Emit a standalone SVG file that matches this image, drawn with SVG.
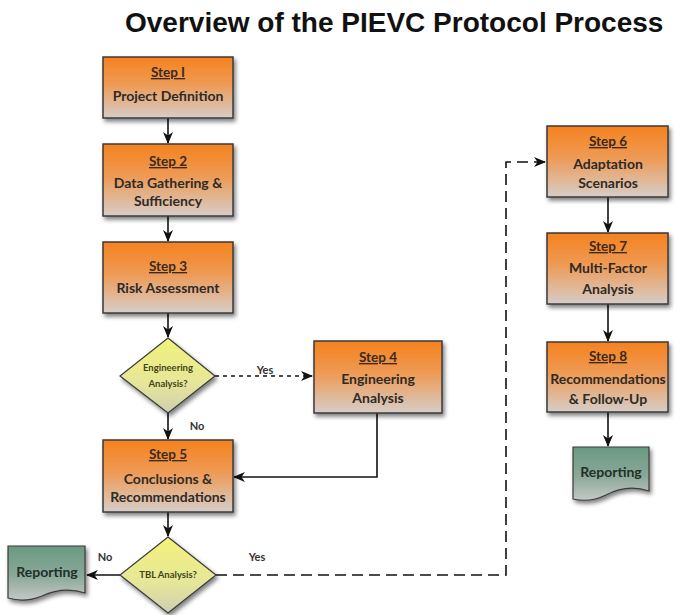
<svg xmlns="http://www.w3.org/2000/svg" width="675" height="615" viewBox="0 0 675 615">
<defs>
<linearGradient id="gOrange" x1="0" y1="0" x2="0" y2="1">
<stop offset="0" stop-color="#f5821e"/>
<stop offset="0.45" stop-color="#ee9a55"/>
<stop offset="1" stop-color="#d6cdc8"/>
</linearGradient>
<linearGradient id="gYellow" x1="0" y1="0" x2="0" y2="1">
<stop offset="0" stop-color="#f2f27a"/>
<stop offset="0.6" stop-color="#e6e69a"/>
<stop offset="1" stop-color="#cfcfb0"/>
</linearGradient>
<linearGradient id="gGreen" x1="0" y1="0" x2="0" y2="1">
<stop offset="0" stop-color="#6a9a82"/>
<stop offset="0.55" stop-color="#8aa898"/>
<stop offset="1" stop-color="#c4c8c6"/>
</linearGradient>
<filter id="shadow" x="-20%" y="-20%" width="140%" height="150%">
<feGaussianBlur in="SourceAlpha" stdDeviation="2"/>
<feOffset dx="2" dy="3" result="b"/>
<feComponentTransfer><feFuncA type="linear" slope="0.5"/></feComponentTransfer>
<feMerge><feMergeNode/><feMergeNode in="SourceGraphic"/></feMerge>
</filter>
<marker id="arr" viewBox="0 0 12 10" refX="11" refY="5" markerWidth="12" markerHeight="10" markerUnits="userSpaceOnUse" orient="auto">
<path d="M0,0 L12,5 L0,10 L3.5,5 z" fill="#111"/>
</marker>
</defs>
<style>
.title{font-family:"Liberation Sans",Arial,sans-serif;font-weight:bold;font-size:28px;fill:#111}
.box{fill:url(#gOrange);stroke:#3a3a3a;stroke-width:1.5;filter:url(#shadow)}
.dia{fill:url(#gYellow);stroke:#3a3a3a;stroke-width:1.2;filter:url(#shadow)}
.doc{fill:url(#gGreen);stroke:#3a3a3a;stroke-width:1.2;filter:url(#shadow)}
.st{font-family:Lato,"Open Sans",sans-serif;font-weight:bold;font-size:13.5px;fill:#3a2a1c;text-anchor:middle;text-decoration:underline}
.tx{font-family:Lato,"Open Sans",sans-serif;font-weight:bold;font-size:14px;fill:#2e2a26;text-anchor:middle}
.dt{font-family:Lato,"Open Sans",sans-serif;font-weight:bold;font-size:9.5px;fill:#44441a;text-anchor:middle}
.rp{font-family:Lato,"Open Sans",sans-serif;font-weight:bold;font-size:14px;fill:#22302a;text-anchor:middle}
.lb{font-family:Lato,"Open Sans",sans-serif;font-weight:bold;font-size:11px;fill:#333;text-anchor:middle}
.c{fill:none;stroke:#111;stroke-width:1.6}
</style>
<text class="title" x="125" y="32">Overview of the PIEVC Protocol Process</text>

<g id="connectors">
<line class="c" x1="168" y1="118" x2="168" y2="143" marker-end="url(#arr)"/>
<line class="c" x1="168" y1="216" x2="168" y2="241" marker-end="url(#arr)"/>
<line class="c" x1="168" y1="313" x2="168" y2="337" marker-end="url(#arr)"/>
<line class="c" x1="168" y1="413" x2="168" y2="439" marker-end="url(#arr)"/>
<line class="c" x1="168" y1="512" x2="168" y2="536" marker-end="url(#arr)"/>
<line class="c" x1="215" y1="376" x2="312" y2="376" stroke-dasharray="4 4" marker-end="url(#arr)"/>
<polyline class="c" points="377,413 377,477 234,477" marker-end="url(#arr)"/>
<line class="c" x1="120" y1="575" x2="87" y2="575" marker-end="url(#arr)"/>
<polyline class="c" points="216,575 506,575 506,162 545,162" stroke-width="2" stroke-dasharray="11 6" marker-end="url(#arr)"/>
<line class="c" x1="608" y1="197" x2="608" y2="232" marker-end="url(#arr)"/>
<line class="c" x1="608" y1="304" x2="608" y2="341" marker-end="url(#arr)"/>
<line class="c" x1="608" y1="412" x2="608" y2="446" marker-end="url(#arr)"/>
<text class="lb" x="265" y="374">Yes</text>
<text class="lb" x="197" y="430">No</text>
<text class="lb" x="105" y="561">No</text>
<text class="lb" x="257" y="561">Yes</text>
</g>

<g id="step1">
<rect class="box" x="103" y="57" width="130" height="61"/>
<text class="st" x="168" y="77">Step I</text>
<text class="tx" x="168" y="101">Project Definition</text>
</g>
<g id="step2">
<rect class="box" x="103" y="144" width="130" height="72"/>
<text class="st" x="168" y="166">Step 2</text>
<text class="tx" x="168" y="188">Data Gathering &amp;</text>
<text class="tx" x="168" y="206">Sufficiency</text>
</g>
<g id="step3">
<rect class="box" x="103" y="242" width="130" height="71"/>
<text class="st" x="168" y="271">Step 3</text>
<text class="tx" x="168" y="293">Risk Assessment</text>
</g>
<g id="decision1">
<polygon class="dia" points="168,338 215,376 168,413 120,376"/>
<text class="dt" x="168" y="371">Engineering</text>
<text class="dt" x="168" y="387">Analysis?</text>
</g>
<g id="step4">
<rect class="box" x="314" y="341" width="128" height="72"/>
<text class="st" x="378" y="362">Step 4</text>
<text class="tx" x="378" y="384">Engineering</text>
<text class="tx" x="378" y="403">Analysis</text>
</g>
<g id="step5">
<rect class="box" x="103" y="440" width="130" height="72"/>
<text class="st" x="168" y="459">Step 5</text>
<text class="tx" x="168" y="484">Conclusions &amp;</text>
<text class="tx" x="168" y="502">Recommendations</text>
</g>
<g id="decision2">
<polygon class="dia" points="168,537 216,575 168,613 120,575"/>
<text class="dt" x="168" y="578">TBL Analysis?</text>
</g>
<g id="report1">
<path class="doc" d="M8,546 H85 V593 C70,588 55,590 42,596 C30,601 18,601 8,598 Z"/>
<text class="rp" x="47" y="577">Reporting</text>
</g>
<g id="step6">
<rect class="box" x="547" y="126" width="121" height="71"/>
<text class="st" x="608" y="146">Step 6</text>
<text class="tx" x="608" y="169">Adaptation</text>
<text class="tx" x="608" y="188">Scenarios</text>
</g>
<g id="step7">
<rect class="box" x="547" y="233" width="121" height="71"/>
<text class="st" x="608" y="251">Step 7</text>
<text class="tx" x="608" y="273">Multi-Factor</text>
<text class="tx" x="608" y="294">Analysis</text>
</g>
<g id="step8">
<rect class="box" x="547" y="342" width="121" height="70"/>
<text class="st" x="608" y="361">Step 8</text>
<text class="tx" x="608" y="384">Recommendations</text>
<text class="tx" x="608" y="404">&amp; Follow-Up</text>
</g>
<g id="report2">
<path class="doc" d="M573,447 H649 V491 C634,486 619,488 606,495 C594,501 582,501 573,499 Z"/>
<text class="rp" x="611" y="477">Reporting</text>
</g>
</svg>
